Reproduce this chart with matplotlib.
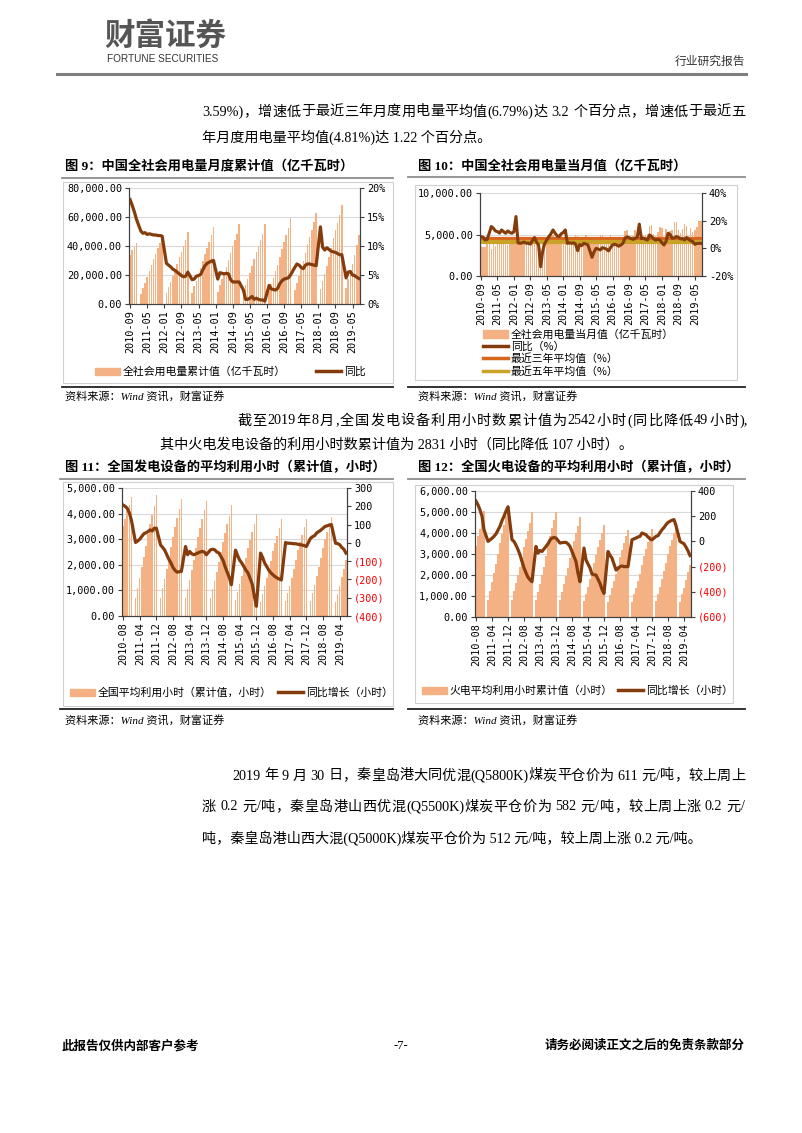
import re
import numpy as np
import matplotlib
matplotlib.use('Agg')
import matplotlib.pyplot as plt
from matplotlib.lines import Line2D
from matplotlib.patches import Patch, Rectangle

nan = np.nan
W, H = 802, 1133

# ---------------- data ----------------
# 图9/图10: 2010-09 .. 2019-08
ticks_a = ['2010-09', '2011-05', '2012-01', '2012-09', '2013-05', '2014-01', '2014-09',
           '2015-05', '2016-01', '2016-09', '2017-05', '2018-01', '2018-09', '2019-05']
# 图11/图12: 2010-08 .. 2019-07
ticks_b = ['2010-08', '2011-04', '2011-12', '2012-08', '2013-04', '2013-12', '2014-08',
           '2015-04', '2015-12', '2016-08', '2017-04', '2017-12', '2018-08', '2019-04']

# 全社会用电量累计值（亿千瓦时）
cum_use = [33500, 37000, 39300, 41900,
           nan, 7100, 11000, 14600, 18500, 22500, 26700, 30900, 34800, 38400, 42400, 46900,
           nan, 7600, 11700, 15400, 19400, 23400, 27800, 32200, 36200, 40000, 44100, 49600,
           nan, 7900, 12300, 16200, 20400, 24700, 29400, 34400, 38700, 42900, 47300, 53200,
           nan, 8400, 12900, 16900, 21400, 25800, 30600, 35400, 39900, 44100, 48500, 55200,
           nan, 8600, 13000, 17100, 21500, 25900, 30800, 35600, 39900, 44100, 48600, 55500,
           nan, 8900, 13600, 17900, 22500, 27200, 32500, 38100, 42800, 47300, 52200, 59200,
           nan, 9400, 14700, 19400, 24500, 29600, 35500, 41500, 46500, 51300, 56500, 63100,
           nan, 10500, 16100, 21000, 26500, 32300, 38800, 45200, 50800, 56000, 61700, 68400,
           nan, 11100, 16900, 22200, 27800, 33800, 40500, 47600]
# 同比 (%)
cum_yoy = [18.0, 17.0, 15.9, 14.6,
           nan, 12.6, 12.2, 12.3, 12.0, 12.1, 12.0, 11.9, 11.9, 11.8, 11.8, 11.7,
           nan, 7.0, 6.7, 6.4, 6.0, 5.8, 5.5, 5.2, 4.9, 4.7, 4.8, 5.5,
           nan, 4.2, 4.3, 4.8, 4.9, 5.1, 5.9, 6.6, 7.0, 7.2, 7.4, 7.5,
           nan, 4.3, 5.4, 5.3, 5.2, 5.3, 5.2, 4.2, 3.8, 3.8, 3.8, 3.8,
           nan, 2.4, 0.8, 0.8, 1.0, 1.3, 0.8, 1.0, 0.8, 0.7, 0.7, 0.5,
           nan, 3.2, 2.6, 2.5, 2.4, 2.7, 3.5, 4.0, 4.3, 4.4, 4.5, 5.0,
           nan, 6.3, 6.9, 6.7, 6.3, 6.1, 6.7, 6.9, 6.9, 6.8, 6.7, 6.6,
           nan, 13.3, 9.8, 9.3, 9.7, 9.4, 9.1, 9.0, 8.9, 8.7, 8.5, 8.5,
           nan, 4.5, 5.5, 5.6, 5.0, 4.9, 4.6, 4.4]

# 全社会用电量当月值（亿千瓦时）
mon_use = [3600, 3500, 3550, 3900,
           3800, 3300, 3850, 3650, 3850, 3950, 4300, 4350, 3900, 3700, 3850, 4300,
           4000, 3850, 4000, 3800, 4100, 4000, 4400, 4400, 3900, 3800, 4000, 4600,
           4300, 3400, 4150, 3950, 4150, 4300, 4900, 5000, 4400, 4150, 4350, 4800,
           4600, 4000, 4400, 4050, 4400, 4500, 4950, 4800, 4600, 4200, 4500, 5000,
           4650, 3800, 4500, 4100, 4350, 4500, 4950, 4900, 4450, 4150, 4450, 5000,
           4700, 4100, 4750, 4250, 4600, 4750, 5400, 5550, 4750, 4400, 4800, 5500,
           5000, 4200, 5350, 4800, 5000, 5100, 6000, 6100, 5100, 4800, 5250, 5900,
           5750, 4400, 5650, 5000, 5450, 5550, 6450, 6500, 5500, 5150, 5700, 6300,
           6000, 4800, 5800, 5250, 5600, 5850, 6650, 6600]
mon_yoy = [8.5, 8.0, 6.0, 6.5,
           11.0, 15.8, 14.5, 12.5, 12.1, 11.0, 13.3, 12.0, 10.9, 12.6, 11.5, 10.9,
           12.0, 23.0, 4.0, 3.6, 4.0, 4.5, 3.6, 3.8, 3.0, 5.5, 7.8, 4.5,
           2.4, -13.3, -2.0, 3.6, 6.0, 8.5, 10.5, 13.3, 11.0, 9.0, 8.5, 10.5,
           11.5, 13.3, 3.6, 4.0, 3.6, 4.0, 3.0, -1.7, 2.7, 2.0, 3.6, 3.2,
           2.4, -2.0, -6.5, -2.5, 0.0, -0.5, -1.2, 0.5, 0.0, -0.5, -1.9, 0.5,
           2.4, 3.0, 2.4, 1.5, 2.4, 3.6, 7.3, 8.3, 7.8, 7.0, 6.5, 7.3,
           8.0, 17.5, 7.0, 7.3, 6.5, 6.0, 9.7, 8.5, 6.8, 6.0, 6.5, 6.1,
           4.0, 2.4, 5.0, 10.9, 10.0, 7.3, 7.5, 8.5, 8.0, 6.8, 7.0, 6.0,
           7.8, 6.5, 5.5, 4.9, 2.9, 3.5, 3.6, 3.6]
avg_3y = 6.79
avg_5y = 4.81

# 全国平均利用小时（累计值，小时）
hours_cum = [3500, 3800, 4100, 4350, 4650,
             nan, 700, 1100, 1500, 1900, 2300, 2750, 3200, 3600, 3950, 4300, 4730,
             nan, 700, 1080, 1450, 1850, 2250, 2680, 3100, 3470, 3830, 4180, 4580,
             nan, 700, 1060, 1420, 1800, 2200, 2640, 3080, 3440, 3790, 4130, 4510,
             nan, 690, 1040, 1380, 1730, 2100, 2500, 2880, 3240, 3580, 3920, 4320,
             nan, 620, 950, 1260, 1580, 1920, 2280, 2650, 2980, 3280, 3600, 3970,
             nan, 560, 870, 1170, 1480, 1800, 2160, 2530, 2850, 3140, 3440, 3785,
             nan, 570, 880, 1190, 1490, 1820, 2200, 2580, 2890, 3180, 3480, 3790,
             nan, 580, 900, 1230, 1560, 1900, 2270, 2660, 2990, 3280, 3580, 3860,
             nan, 560, 870, 1190, 1510, 1840, 2200]
hours_yoy = [207, 200, 189, 165, 125,
             nan, 2, 10, 20, 35, 50, 55, 62, 71, 65, 80, 80,
             nan, -11, -25, -40, -65, -90, -110, -135, -151, -160, -158, -156,
             nan, -20, -65, -47, -60, -65, -60, -55, -50, -47, -50, -65,
             nan, -38, -35, -38, -50, -55, -75, -95, -130, -160, -190, -229,
             nan, -40, -70, -95, -110, -130, -150, -165, -195, -225, -290, -347,
             nan, -56, -80, -111, -130, -150, -165, -175, -185, -192, -198, -203,
             nan, 2, -2, -2, -3, -5, -5, -8, -10, -12, -15, -20,
             nan, 25, 34, 40, 55, 62, 70, 80, 90, 93, 98, 100,
             nan, -2, -4, -10, -25, -35, -56]

# 火电平均利用小时累计值（小时）
thermal_cum = [3400, 3850, 4200, 4600, 5030,
               nan, 820, 1250, 1650, 2080, 2520, 3010, 3530, 3950, 4380, 4800, 5305,
               nan, 830, 1230, 1600, 2000, 2400, 2850, 3330, 3720, 4090, 4480, 4980,
               nan, 800, 1200, 1580, 1980, 2400, 2900, 3430, 3850, 4230, 4600, 5020,
               nan, 820, 1210, 1560, 1950, 2340, 2790, 3240, 3620, 3990, 4340, 4740,
               nan, 760, 1110, 1440, 1800, 2160, 2560, 2970, 3330, 3660, 3990, 4360,
               nan, 700, 1050, 1360, 1700, 2030, 2430, 2860, 3200, 3520, 3840, 4165,
               nan, 730, 1080, 1390, 1730, 2070, 2490, 2910, 3250, 3560, 3880, 4210,
               nan, 740, 1110, 1430, 1800, 2170, 2580, 3010, 3370, 3690, 4020, 4360,
               nan, 720, 1080, 1400, 1760, 2120, 2480]
thermal_yoy = [320, 290, 250, 200, 93,
               nan, 0, 12, 25, 40, 60, 90, 120, 165, 200, 240, 275,
               nan, 13, 0, -30, -65, -107, -160, -210, -250, -285, -305, -320,
               nan, -40, -93, -72, -80, -60, -40, -19, 10, 27, 30, 27,
               nan, -13, -10, -8, -8, -20, -40, -80, -120, -160, -253, -320,
               nan, -53, -147, -180, -210, -259, -265, -267, -300, -333, -380, -413,
               nan, -80, -110, -133, -180, -227, -215, -200, -195, -200, -200, -200,
               nan, 13, 20, 27, 35, 40, 67, 60, 53, 35, 20, 13,
               nan, 40, 45, 70, 93, 110, 133, 150, 160, 168, 173, 125,
               nan, 0, -10, -19, -45, -75, -112]

# ---------------- style ----------------
BAR = '#F4B183'
LINE = '#843C0C'
ORANGE = '#D8651E'
GOLD = '#C9A227'
GRID = '#D9D9D9'
SPINE = '#404040'
BODY = ['Liberation Serif', 'Noto Sans CJK SC']
SANS = ['Noto Sans CJK SC', 'DejaVu Sans']
MONO = 'DejaVu Sans Mono'
TICK = 7.3

fig = plt.figure(figsize=(W / 100, H / 100), dpi=100)
renderer = fig.canvas.get_renderer()


def fx(x):
    return x / W


def fy(y):
    return 1 - y / H


def ftext(x, y, s, **kw):
    kw.setdefault('va', 'center')
    return fig.text(fx(x), fy(y), s, **kw)


def justify(x0, x1, y, s, size):
    # spread the tokens of one text line evenly between x0 and x1
    toks = re.findall(r'[\x21-\x7e]+| +|[^\x00-\x7f]', s)
    widths = []
    for t in toks:
        if t.strip() == '':
            widths.append(len(t) * 0.25 * size * 100 / 72)
        else:
            tt = ftext(0, 0, t, fontsize=size, family=BODY)
            widths.append(tt.get_window_extent(renderer).width)
            tt.remove()
    gap = ((x1 - x0) - sum(widths)) / (len(toks) - 1)
    x = x0
    for t, w in zip(toks, widths):
        if t.strip():
            ftext(x, y, t, fontsize=size, family=BODY)
        x += w + gap


def hline(x0, x1, y, color, lw):
    fig.add_artist(Line2D([fx(x0), fx(x1)], [fy(y), fy(y)], color=color, lw=lw))


def frame(x0, y0, x1, y1):
    fig.add_artist(Rectangle((fx(x0), fy(y1)), fx(x1) - fx(x0), fy(y0) - fy(y1),
                             fill=False, edgecolor='#D0D0D0', lw=0.8))


def make_axes(x0, y0, x1, y1):
    ax = fig.add_axes([fx(x0), fy(y1), fx(x1) - fx(x0), fy(y0) - fy(y1)])
    ax2 = ax.twinx()
    for a in (ax, ax2):
        a.spines['top'].set_visible(False)
        for s in ('left', 'right', 'bottom'):
            a.spines[s].set_color(SPINE)
            a.spines[s].set_linewidth(0.8)
    ax.yaxis.grid(True, color=GRID, lw=0.8)
    ax.set_axisbelow(True)
    ax.tick_params(axis='both', labelsize=TICK, length=3, width=0.8, color=SPINE, pad=2)
    ax2.tick_params(axis='y', labelsize=TICK, length=3, width=0.8, color=SPINE, pad=2)
    return ax, ax2


def set_xticks(ax, labels, n):
    ax.set_xlim(-0.5, n - 0.5)
    ax.set_xticks(range(0, 8 * len(labels), 8))
    ax.set_xticklabels(labels, rotation=90, family=MONO, fontsize=TICK)
    ax.tick_params(axis='x', pad=1.5)


def plot_line(ax, vals, color, lw=2.3):
    v = np.array(vals, dtype=float)
    x = np.arange(len(v))
    m = ~np.isnan(v)
    ax.plot(x[m], v[m], color=color, lw=lw, solid_joinstyle='round')


def bars(ax, vals):
    ax.bar(np.arange(len(vals)), vals, width=0.7, color=BAR, linewidth=0)


def legend(ax, handles, labels, x, y, ncol, colsp=1.0, hl=2.3, spacing=0.5):
    ax.legend(handles, labels, ncol=ncol, loc='center left',
              bbox_to_anchor=(fx(x), fy(y)), bbox_transform=fig.transFigure,
              frameon=False, handlelength=hl, handletextpad=0.25,
              columnspacing=colsp, borderpad=0, borderaxespad=0,
              labelspacing=spacing, prop={'family': SANS, 'size': 7.8})


def money(vals):
    return ['{:,.2f}'.format(v) for v in vals]


def paren(vals):
    return ['({})'.format(-v) if v < 0 else str(v) for v in vals]


# ---------------- header ----------------
ftext(104, 36, '财富证券', fontsize=22, family=SANS, color='#555555', weight='bold')
ftext(107, 59, 'FORTUNE SECURITIES', fontsize=7.2, family='Liberation Sans', color='#333333')
ftext(745, 61, '行业研究报告', fontsize=8.5, family=SANS, color='#333333', ha='right')
hline(57, 746, 74, '#7F7F7F', 2.2)

BODY_SIZE = 10.2
justify(202, 745, 112, '3.59%)，增速低于最近三年月度用电量平均值(6.79%)达 3.2 个百分点，增速低于最近五', BODY_SIZE)
ftext(202, 137, '年月度用电量平均值(4.81%)达 1.22 个百分点。', fontsize=BODY_SIZE, family=BODY)

# ---------------- 图9 ----------------
ftext(65, 166, '图 9：中国全社会用电量月度累计值（亿千瓦时）', fontsize=9.5, family=BODY, weight='bold')
hline(62, 393, 178, '#8C8C8C', 1.3)
frame(63, 182, 393, 383)
hline(62, 393, 387, '#222222', 1.3)
ftext(65, 397, '资料来源：Wind 资讯，财富证券', fontsize=8, family=BODY, style='italic')

n = len(cum_use)
ax, ax2 = make_axes(129, 188, 360, 304)
bars(ax, cum_use)
plot_line(ax2, cum_yoy, LINE)
ax.set_ylim(0, 80000)
ax.set_yticks(range(0, 80001, 20000))
ax.set_yticklabels(money(range(0, 80001, 20000)), family=MONO)
ax2.set_ylim(0, 20)
ax2.set_yticks(range(0, 21, 5))
ax2.set_yticklabels(['{}%'.format(v) for v in range(0, 21, 5)], family=MONO)
set_xticks(ax, ticks_a, n)
legend(ax2, [Patch(color=BAR), Line2D([], [], color=LINE, lw=2.5)],
       ['全社会用电量累计值（亿千瓦时）', '同比'], 95, 372, 2, colsp=2.8)

# ---------------- 图10 ----------------
ftext(418, 166, '图 10：中国全社会用电量当月值（亿千瓦时）', fontsize=9.5, family=BODY, weight='bold')
hline(408, 745, 177, '#8C8C8C', 1.3)
frame(415, 185, 737, 380)
hline(408, 745, 387, '#222222', 1.3)
ftext(418, 397, '资料来源：Wind 资讯，财富证券', fontsize=8, family=BODY, style='italic')

n = len(mon_use)
ax, ax2 = make_axes(480, 193, 702, 276)
bars(ax, mon_use)
ax2.axhline(avg_3y, color=ORANGE, lw=3.0)
ax2.axhline(avg_5y, color=GOLD, lw=3.0)
plot_line(ax2, mon_yoy, LINE, lw=2.2)
ax.set_ylim(0, 10000)
ax.set_yticks([0, 5000, 10000])
ax.set_yticklabels(money([0, 5000, 10000]), family=MONO)
ax2.set_ylim(-20, 40)
ax2.set_yticks([-20, 0, 20, 40])
ax2.set_yticklabels(['{}%'.format(v) for v in [-20, 0, 20, 40]], family=MONO)
set_xticks(ax, ticks_a, n)
legend(ax2, [Patch(color=BAR), Line2D([], [], color=LINE, lw=2.5),
             Line2D([], [], color=ORANGE, lw=2.5), Line2D([], [], color=GOLD, lw=2.5)],
       ['全社会用电量当月值（亿千瓦时）', '同比（%）', '最近三年平均值（%）', '最近五年平均值（%）'],
       483, 353, 1, spacing=0.15)

# ---------------- middle text ----------------
justify(237, 748, 421, '截至2019年8月,全国发电设备利用小时数累计值为2542小时(同比降低49小时),', BODY_SIZE)
ftext(160, 445, '其中火电发电设备的利用小时数累计值为 2831 小时（同比降低 107 小时）。',
      fontsize=BODY_SIZE, family=BODY)

# ---------------- 图11 ----------------
ftext(65, 468, '图 11：全国发电设备的平均利用小时（累计值，小时）', fontsize=9.5, family=BODY, weight='bold')
hline(60, 393, 479, '#8C8C8C', 1.3)
frame(63, 482, 393, 706)
hline(60, 393, 709, '#222222', 1.3)
ftext(65, 721, '资料来源：Wind 资讯，财富证券', fontsize=8, family=BODY, style='italic')

n = len(hours_cum)
ax, ax2 = make_axes(122, 488, 347, 616)
bars(ax, hours_cum)
plot_line(ax2, hours_yoy, LINE)
ax.set_ylim(0, 5000)
ax.set_yticks(range(0, 5001, 1000))
ax.set_yticklabels(money(range(0, 5001, 1000)), family=MONO)
ax2.set_ylim(-400, 300)
r11 = list(range(-400, 301, 100))
ax2.set_yticks(r11)
ax2.set_yticklabels(paren(r11), family=MONO)
for v, lab in zip(r11, ax2.get_yticklabels()):
    if v < 0:
        lab.set_color('#FF0000')
set_xticks(ax, ticks_b, n)
legend(ax2, [Patch(color=BAR), Line2D([], [], color=LINE, lw=2.5)],
       ['全国平均利用小时（累计值，小时）', '同比增长（小时）'], 70, 693, 2, colsp=0.6)

# ---------------- 图12 ----------------
ftext(418, 468, '图 12：全国火电设备的平均利用小时（累计值，小时）', fontsize=9.5, family=BODY, weight='bold')
hline(408, 745, 479, '#8C8C8C', 1.3)
frame(415, 485, 733, 703)
hline(408, 745, 709, '#222222', 1.3)
ftext(418, 721, '资料来源：Wind 资讯，财富证券', fontsize=8, family=BODY, style='italic')

n = len(thermal_cum)
ax, ax2 = make_axes(475, 491, 691, 617)
bars(ax, thermal_cum)
plot_line(ax2, thermal_yoy, LINE)
ax.set_ylim(0, 6000)
ax.set_yticks(range(0, 6001, 1000))
ax.set_yticklabels(money(range(0, 6001, 1000)), family=MONO)
ax2.set_ylim(-600, 400)
r12 = list(range(-600, 401, 200))
ax2.set_yticks(r12)
ax2.set_yticklabels(paren(r12), family=MONO)
for v, lab in zip(r12, ax2.get_yticklabels()):
    if v < 0:
        lab.set_color('#FF0000')
set_xticks(ax, ticks_b, n)
legend(ax2, [Patch(color=BAR), Line2D([], [], color=LINE, lw=2.5)],
       ['火电平均利用小时累计值（小时）', '同比增长（小时）'], 422, 691, 2, colsp=0.5)

# ---------------- bottom text ----------------
justify(232, 745, 776, '2019 年 9 月 30 日，秦皇岛港大同优混(Q5800K)煤炭平仓价为 611 元/吨，较上周上', BODY_SIZE)
justify(202, 745, 807, '涨 0.2 元/吨，秦皇岛港山西优混(Q5500K)煤炭平仓价为 582 元/吨，较上周上涨 0.2 元/', BODY_SIZE)
ftext(202, 838, '吨，秦皇岛港山西大混(Q5000K)煤炭平仓价为 512 元/吨，较上周上涨 0.2 元/吨。',
      fontsize=BODY_SIZE, family=BODY)

# ---------------- footer ----------------
ftext(62, 1046, '此报告仅供内部客户参考', fontsize=9, family=BODY, weight='bold')
ftext(401, 1046, '-7-', fontsize=9, family=BODY, ha='center')
ftext(745, 1046, '请务必阅读正文之后的免责条款部分', fontsize=9, family=BODY, weight='bold', ha='right')

fig.savefig('out.png', dpi=100)
